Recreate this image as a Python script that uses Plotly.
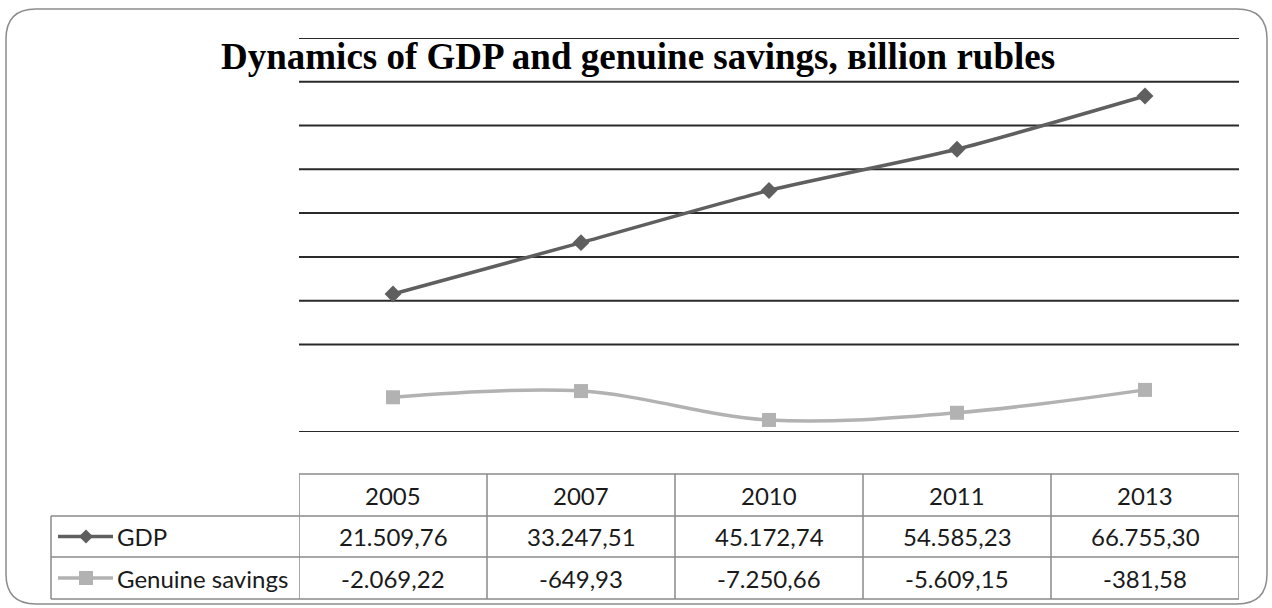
import plotly.graph_objects as go

years = ["2005", "2007", "2010", "2011", "2013"]
gdp = [21509.76, 33247.51, 45172.74, 54585.23, 66755.30]
savings = [-2069.22, -649.93, -7250.66, -5609.15, -381.58]
series_names = ["GDP", "Genuine savings"]
title_text = "Dynamics of GDP and genuine savings, вillion rubles"
grid_vals = [-10000, 10000, 20000, 30000, 40000, 50000, 60000, 70000, 80000]

W, H = 1272, 608
L, R, T, B = 299, 1239, 38, 432  # plot area in px

def px(x):
    return (x - L) / (R - L)

def py(y):
    return (B - y) / (B - T)

def fmt(v):
    s = f"{abs(v):,.2f}".replace(",", "X").replace(".", ",").replace("X", ".")
    return ("-" if v < 0 else "") + s

GDP_COLOR = "#5f5f5f"
SAV_COLOR = "#b2b2b2"
GRID = "#2a2a2a"
CELL = "#8a8a8a"
TXT = "#1a1a1a"
TFONT = "Lato"
TSIZE = 24

fig = go.Figure()
fig.add_trace(go.Scatter(x=years, y=gdp, mode="lines+markers", name=series_names[0],
                         line=dict(color=GDP_COLOR, width=3.5, shape="spline", smoothing=0.6),
                         marker=dict(symbol="diamond", size=13, color=GDP_COLOR),
                         cliponaxis=False))
fig.add_trace(go.Scatter(x=years, y=savings, mode="lines+markers", name=series_names[1],
                         line=dict(color=SAV_COLOR, width=3.5, shape="spline", smoothing=1.0),
                         marker=dict(symbol="square", size=14, color=SAV_COLOR),
                         cliponaxis=False))

shapes = []
annotations = []

# gridlines drawn through the y scale
for gv in grid_vals:
    shapes.append(dict(type="line", xref="paper", yref="y", x0=0, x1=1, y0=gv, y1=gv,
                       line=dict(color=GRID, width=2), layer="below"))

row_tops = [474, 516, 557, 599]
label_left = 51

shapes.append(dict(type="line", xref="paper", yref="paper", x0=px(L), x1=px(R),
                   y0=py(row_tops[0]), y1=py(row_tops[0]), line=dict(color=CELL, width=1.5)))
for yy in row_tops[1:]:
    shapes.append(dict(type="line", xref="paper", yref="paper", x0=px(label_left), x1=px(R),
                       y0=py(yy), y1=py(yy), line=dict(color=CELL, width=1.5)))
shapes.append(dict(type="line", xref="paper", yref="paper", x0=px(label_left), x1=px(label_left),
                   y0=py(row_tops[1]), y1=py(row_tops[3]), line=dict(color=CELL, width=1.5)))
for i in range(len(years) + 1):
    shapes.append(dict(type="line", xref="x", yref="paper", x0=i - 0.5, x1=i - 0.5,
                       y0=py(row_tops[0]), y1=py(row_tops[3]), line=dict(color=CELL, width=1.5)))

rows = [gdp, savings]
for i, yr in enumerate(years):
    annotations.append(dict(x=i, y=py((row_tops[0] + row_tops[1]) / 2), xref="x", yref="paper",
                            text=yr, showarrow=False, xanchor="center", yanchor="middle",
                            font=dict(family=TFONT, size=TSIZE, color=TXT)))
    for r, vals in enumerate(rows):
        yc = (row_tops[r + 1] + row_tops[r + 2]) / 2
        annotations.append(dict(x=i, y=py(yc), xref="x", yref="paper", text=fmt(vals[i]),
                                showarrow=False, xanchor="center", yanchor="middle",
                                font=dict(family=TFONT, size=TSIZE, color=TXT)))

for r, (name, col) in enumerate(zip(series_names, [GDP_COLOR, SAV_COLOR])):
    yc = (row_tops[r + 1] + row_tops[r + 2]) / 2
    shapes.append(dict(type="line", xref="paper", yref="paper", x0=px(58), x1=px(113),
                       y0=py(yc), y1=py(yc), line=dict(color=col, width=3.5)))
    cx = 86
    if r == 0:
        path = (f"M {px(cx-7)} {py(yc)} L {px(cx)} {py(yc-7)} L {px(cx+7)} {py(yc)} "
                f"L {px(cx)} {py(yc+7)} Z")
    else:
        path = (f"M {px(cx-7)} {py(yc-7)} L {px(cx+7)} {py(yc-7)} L {px(cx+7)} {py(yc+7)} "
                f"L {px(cx-7)} {py(yc+7)} Z")
    shapes.append(dict(type="path", xref="paper", yref="paper", path=path,
                       fillcolor=col, line=dict(color=col, width=0)))
    annotations.append(dict(x=px(115), y=py(yc), xref="paper", yref="paper", text=name,
                            xanchor="left", yanchor="middle", showarrow=False,
                            font=dict(family=TFONT, size=TSIZE, color=TXT)))

x0b, x1b, y0b, y1b, rr = 6, 1267, 9, 604, 30
path = (f"M {px(x0b+rr)} {py(y0b)} L {px(x1b-rr)} {py(y0b)} "
        f"Q {px(x1b)} {py(y0b)} {px(x1b)} {py(y0b+rr)} "
        f"L {px(x1b)} {py(y1b-rr)} Q {px(x1b)} {py(y1b)} {px(x1b-rr)} {py(y1b)} "
        f"L {px(x0b+rr)} {py(y1b)} Q {px(x0b)} {py(y1b)} {px(x0b)} {py(y1b-rr)} "
        f"L {px(x0b)} {py(y0b+rr)} Q {px(x0b)} {py(y0b)} {px(x0b+rr)} {py(y0b)} Z")
shapes.append(dict(type="path", xref="paper", yref="paper", path=path,
                   line=dict(color="#8c8c8c", width=1.5), layer="below"))

annotations.append(dict(x=px(638), y=py(57), xref="paper", yref="paper", text=f"<b>{title_text}</b>",
                        showarrow=False, xanchor="center", yanchor="middle",
                        font=dict(family="Liberation Serif", size=37, color="#000000")))

fig.update_layout(
    width=W, height=H,
    margin=dict(l=L, r=W - R, t=T, b=H - B, pad=0),
    paper_bgcolor="white", plot_bgcolor="white",
    showlegend=False,
    shapes=shapes, annotations=annotations,
    xaxis=dict(type="category", range=[-0.5, 4.5], showgrid=False, showline=False,
               showticklabels=False, ticks="", zeroline=False),
    yaxis=dict(range=[-10000, 80000], showgrid=False, zeroline=False, showline=False,
               showticklabels=False, ticks=""),
)

fig.write_html("out.html", config={"displayModeBar": False},
               post_script="document.body.style.margin='0';document.body.style.overflow='hidden';")
